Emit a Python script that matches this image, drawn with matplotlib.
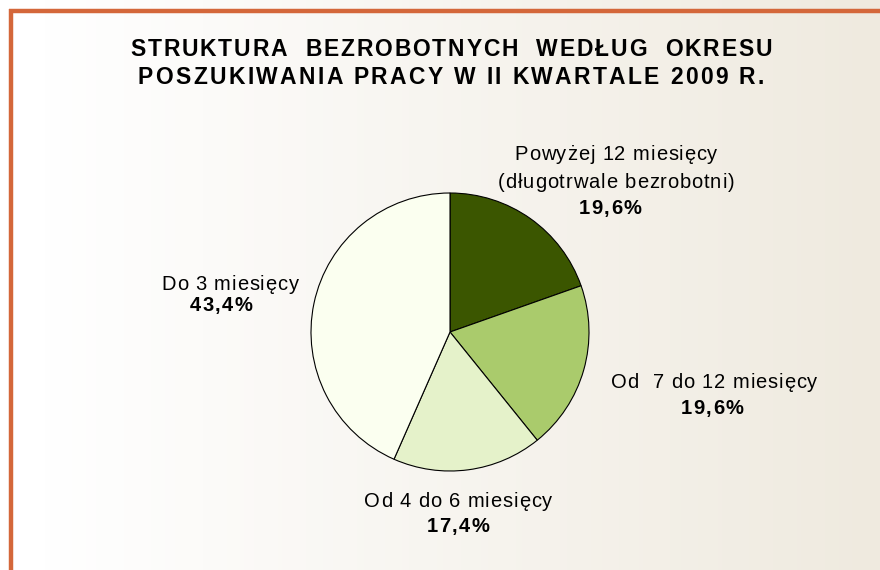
import numpy as np
from matplotlib import pyplot as plt
from matplotlib.lines import Line2D
from matplotlib.font_manager import FontProperties, findfont, get_font

plt.rcParams['font.family'] = ['Liberation Sans', 'DejaVu Sans']

categories = ["Powyżej 12 miesięcy\n(długotrwale bezrobotni)",
              "Od  7 do 12 miesięcy",
              "Od 4 do 6 miesięcy",
              "Do 3 miesięcy"]
shares = [19.6, 19.6, 17.4, 43.4]
colors = ["#3b5600", "#aacb6c", "#e5f2ca", "#fbfff0"]
title_lines = ["STRUKTURA  BEZROBOTNYCH  WEDŁUG  OKRESU",
               "POSZUKIWANIA PRACY W II KWARTALE 2009 R."]

# label baselines (pixels from top-left): name centre x, first name line y,
# percent centre x, percent y
name_pos = [(616, 160), (714, 388), (458, 507), (230, 290)]
pct_pos = [(610, 214), (712, 414), (458, 532), (221, 311)]

W, H = 880, 570
DPI = 100


def tracked_text(ax, xc, y, s, size, track, weight='normal'):
    # draws a string letter by letter with extra spacing, centred on xc
    prop = FontProperties(family='Liberation Sans', weight=weight, size=size)
    font = get_font(findfont(prop))
    font.set_size(size, DPI)
    adv = [font.load_char(ord(c)).linearHoriAdvance / 65536 for c in s]
    total = sum(adv) + track * (len(s) - 1)
    x = xc - total / 2
    for c, a in zip(s, adv):
        if c != ' ':
            ax.text(x, y, c, fontproperties=prop, ha='left', va='baseline')
        x += a + track


fig = plt.figure(figsize=(W / DPI, H / DPI), dpi=DPI)

# background gradient white -> beige
bg = fig.add_axes([0, 0, 1, 1], zorder=0)
grad = np.clip((np.linspace(0, 1, 256) - 0.05) / 0.95, 0, 1)
c0 = np.array([1.0, 1.0, 1.0])
c1 = np.array([0xef, 0xea, 0xdf]) / 255
img = c0[None, :] * (1 - grad[:, None]) + c1[None, :] * grad[:, None]
bg.imshow(img[None, :, :], aspect='auto', extent=[0, W, 0, H])
bg.set_xlim(0, W)
bg.set_ylim(0, H)
bg.axis('off')

# pie
pa = fig.add_axes([0, 0, 1, 1], zorder=1)
pa.patch.set_visible(False)
pa.pie(shares, colors=colors, startangle=90, counterclock=False,
       center=(450, H - 332), radius=139, frame=True,
       wedgeprops=dict(edgecolor='black', linewidth=0.8))
pa.set_xlim(0, W)
pa.set_ylim(0, H)
pa.axis('off')

# overlay for text and frame, pixel coordinates from top-left
ax = fig.add_axes([0, 0, 1, 1], zorder=2)
ax.patch.set_visible(False)
ax.set_xlim(0, W)
ax.set_ylim(H, 0)
ax.axis('off')

ax.add_line(Line2D([10.5, 10.5], [9, H], color="#d4673a", lw=3.2, solid_capstyle='butt'))
ax.add_line(Line2D([9, W], [10.5, 10.5], color="#d4673a", lw=3.2, solid_capstyle='butt'))

tracked_text(ax, 451, 56, title_lines[0], 16.5, 1.8, weight='bold')
tracked_text(ax, 451, 84, title_lines[1], 16.5, 2.3, weight='bold')

for name, val, (nx, ny), (px, py) in zip(categories, shares, name_pos, pct_pos):
    for i, line in enumerate(name.split("\n")):
        tracked_text(ax, nx, ny + 28 * i, line, 14.5, 0.9)
    tracked_text(ax, px, py, f"{val:.1f}%".replace('.', ','), 14.5, 1.5,
                 weight='bold')

fig.savefig("out.png", dpi=DPI)
